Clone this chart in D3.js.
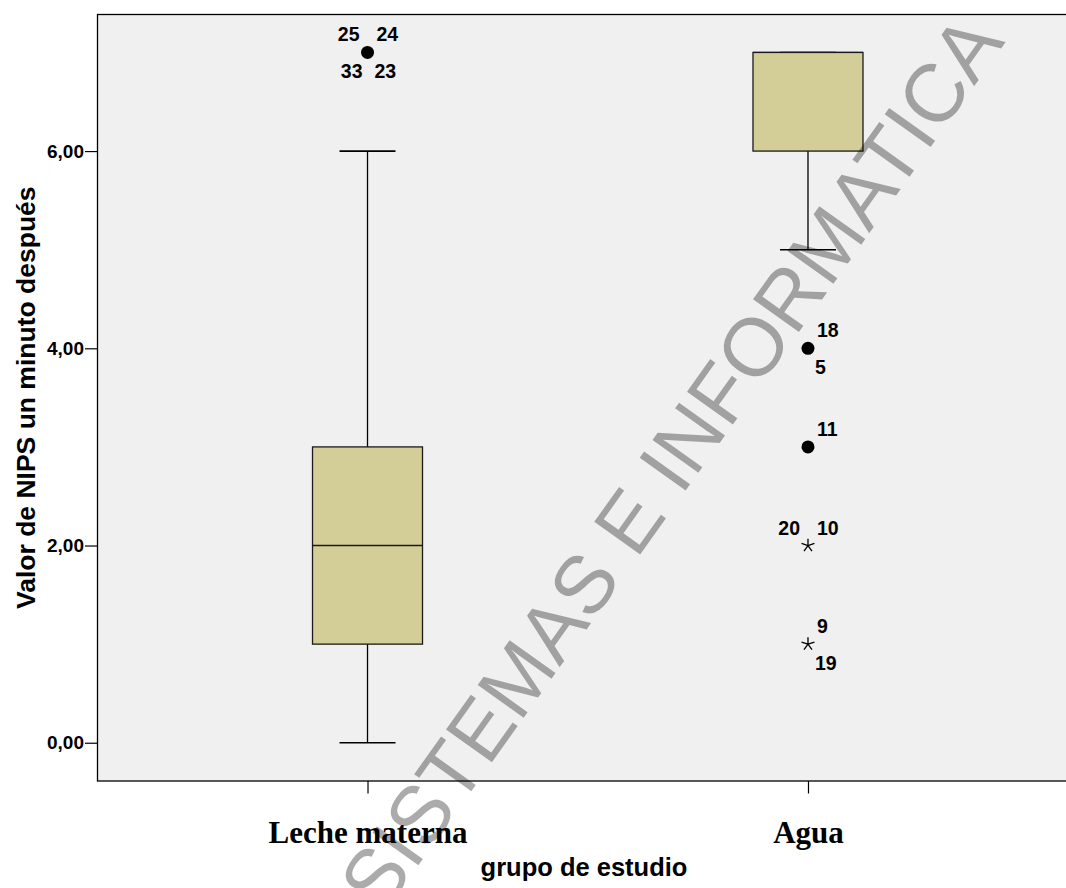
<!DOCTYPE html>
<html>
<head>
<meta charset="utf-8">
<script src="https://cdn.jsdelivr.net/npm/d3@7"></script>
<style>
  html, body { margin: 0; padding: 0; background: #fff; }
  svg { display: block; }
</style>
</head>
<body>
<div id="chart"></div>
<script>
// ---------- data ----------
const categories = ["Leche materna", "Agua"];
const whiskerLow  = [0, 5];
const q1          = [1, 6];
const medians     = [2, 7];
const q3          = [3, 7];
const whiskerHigh = [6, 7];

const outlierCategory = ["Leche materna", "Agua", "Agua", "Agua", "Agua"];
const outlierValue    = [7, 4, 3, 2, 1];
const outlierSymbol   = ["circle", "circle", "circle", "star", "star"];
// case labels around each point: [upper-left, upper-right, lower-left, lower-right]
const outlierLabels   = [
  ["25", "24", "33", "23"],
  ["",   "18", "",   "5"],
  ["",   "11", "",   ""],
  ["20", "10", "",   ""],
  ["",   "9",  "",   "19"]
];

const yTicks = [0, 2, 4, 6];
const yTitle = "Valor de NIPS un minuto después";
const xTitle = "grupo de estudio";
const watermark = "SISTEMAS E INFORMATICA";

// ---------- layout ----------
const W = 1066, H = 888;
const plot = { left: 97.5, right: 1078, top: 14.5, bottom: 781 };
const sans = "'Liberation Sans', Arial, Helvetica, sans-serif";
const serif = "'Liberation Serif', 'Times New Roman', serif";

const svg = d3.select("#chart").append("svg")
  .attr("width", W).attr("height", H);

svg.append("rect").attr("x", 0).attr("y", 0).attr("width", W).attr("height", H).attr("fill", "#fff");

const x = d3.scalePoint().domain(categories).range([plot.left, plot.right]).padding(0.613);
const y = d3.scaleLinear().domain([-0.388, 7.385]).range([plot.bottom, plot.top]);

// plot background
svg.append("rect")
  .attr("x", plot.left).attr("y", plot.top)
  .attr("width", plot.right - plot.left).attr("height", plot.bottom - plot.top)
  .attr("fill", "#f0f0f0").attr("stroke", "#000").attr("stroke-width", 1.3);

// y axis
const yAxis = d3.axisLeft(y).tickValues(yTicks)
  .tickFormat(d => d3.format(".2f")(d).replace(".", ","))
  .tickSize(12.5).tickPadding(1);
const gy = svg.append("g").attr("transform", `translate(${plot.left},0)`).call(yAxis);
gy.select(".domain").remove();
gy.selectAll(".tick line").attr("stroke", "#000").attr("stroke-width", 1.2);
gy.selectAll(".tick text").attr("fill", "#000")
  .style("font-family", sans).style("font-size", "19px").style("font-weight", "bold");

// x axis
const xAxis = d3.axisBottom(x).tickSize(12.5).tickPadding(27);
const gx = svg.append("g").attr("transform", `translate(0,${plot.bottom})`).call(xAxis);
gx.select(".domain").remove();
gx.selectAll(".tick line").attr("stroke", "#000").attr("stroke-width", 1.2);
gx.selectAll(".tick text").attr("fill", "#000")
  .style("font-family", serif).style("font-size", "31px").style("font-weight", "bold");

// boxes
const boxW = 110, capW = 56;
const boxes = categories.map((c, i) => ({
  c, lo: whiskerLow[i], q1: q1[i], med: medians[i], q3: q3[i], hi: whiskerHigh[i]
}));
const gb = svg.append("g");
boxes.forEach(b => {
  const cx = x(b.c);
  const g = gb.append("g");
  g.append("line").attr("x1", cx).attr("x2", cx).attr("y1", y(b.q1)).attr("y2", y(b.lo))
    .attr("stroke", "#000").attr("stroke-width", 1.3);
  g.append("line").attr("x1", cx).attr("x2", cx).attr("y1", y(b.q3)).attr("y2", y(b.hi))
    .attr("stroke", "#000").attr("stroke-width", 1.3);
  g.append("line").attr("x1", cx - capW / 2).attr("x2", cx + capW / 2).attr("y1", y(b.lo)).attr("y2", y(b.lo))
    .attr("stroke", "#000").attr("stroke-width", 1.6);
  g.append("line").attr("x1", cx - capW / 2).attr("x2", cx + capW / 2).attr("y1", y(b.hi)).attr("y2", y(b.hi))
    .attr("stroke", "#000").attr("stroke-width", 1.6);
  g.append("rect").attr("x", cx - boxW / 2).attr("y", y(b.q3))
    .attr("width", boxW).attr("height", y(b.q1) - y(b.q3))
    .attr("fill", "#d3ce98").attr("stroke", "#1a1a1a").attr("stroke-width", 1.3);
  g.append("line").attr("x1", cx - boxW / 2).attr("x2", cx + boxW / 2).attr("y1", y(b.med)).attr("y2", y(b.med))
    .attr("stroke", "#1a1a1a").attr("stroke-width", 1.3);
});

// outliers
const starPath = (r) => {
  let p = "";
  for (let k = 0; k < 5; k++) {
    const a = (-90 + 72 * k) * Math.PI / 180;
    p += `M0,0L${(r * Math.cos(a)).toFixed(2)},${(r * Math.sin(a)).toFixed(2)}`;
  }
  return p;
};
const labelOffsets = [
  { dx: -8, dy: -11, anchor: "end" },
  { dx: 9,  dy: -11, anchor: "start" },
  { dx: -5, dy: 26,  anchor: "end" },
  { dx: 7,  dy: 26,  anchor: "start" }
];
const go = svg.append("g");
outlierValue.forEach((v, i) => {
  const cx = x(outlierCategory[i]), cy = y(v);
  if (outlierSymbol[i] === "circle") {
    go.append("circle").attr("cx", cx).attr("cy", cy).attr("r", 6.5).attr("fill", "#000");
  } else {
    go.append("path").attr("d", starPath(6.8)).attr("transform", `translate(${cx},${cy})`)
      .attr("stroke", "#000").attr("stroke-width", 1.3).attr("fill", "none");
  }
  outlierLabels[i].forEach((t, k) => {
    if (!t) return;
    const o = labelOffsets[k];
    go.append("text").attr("x", cx + o.dx).attr("y", cy + o.dy)
      .attr("text-anchor", o.anchor)
      .style("font-family", sans).style("font-size", "19.5px").style("font-weight", "bold")
      .attr("fill", "#000").text(t);
  });
});

// axis titles
svg.append("text")
  .attr("transform", `translate(35,${(plot.top + plot.bottom) / 2}) rotate(-90)`)
  .attr("text-anchor", "middle")
  .style("font-family", sans).style("font-size", "26.5px").style("font-weight", "bold")
  .attr("fill", "#000").text(yTitle);

svg.append("text")
  .attr("x", 584).attr("y", 876)
  .attr("text-anchor", "middle")
  .style("font-family", sans).style("font-size", "25.5px").style("font-weight", "bold")
  .attr("fill", "#000").text(xTitle);

// watermark
svg.append("text")
  .attr("transform", "translate(694,479) rotate(-54.5)")
  .attr("text-anchor", "middle")
  .style("font-family", sans).style("font-size", "82px")
  .attr("fill", "#000").attr("fill-opacity", 0.33)
  .text(watermark);
</script>
</body>
</html>
